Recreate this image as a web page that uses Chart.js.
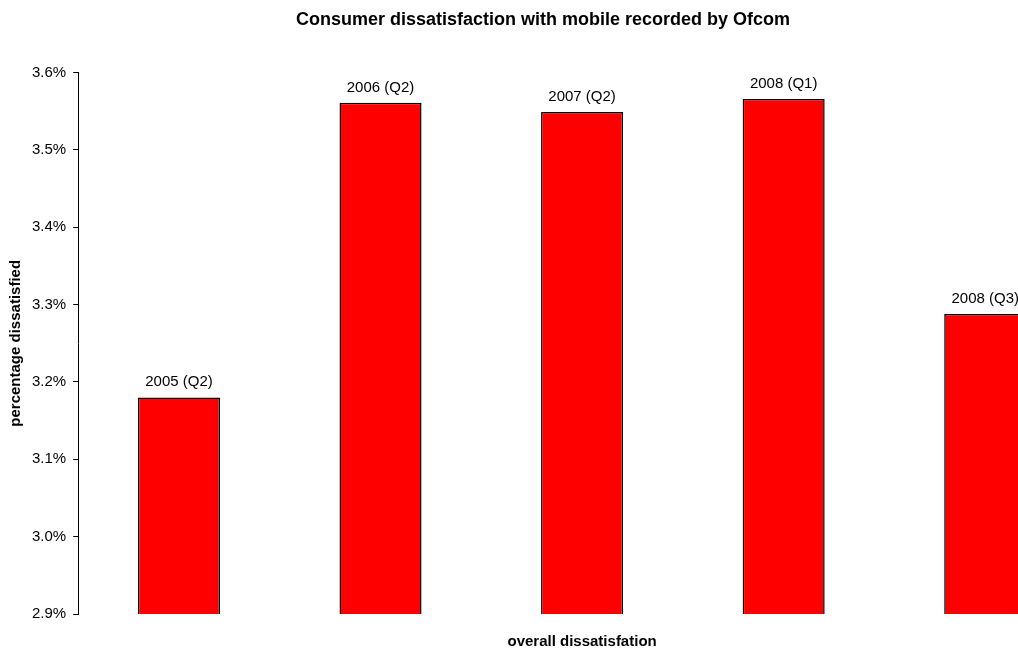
<!DOCTYPE html>
<html>
<head>
<meta charset="utf-8">
<script src="https://cdn.jsdelivr.net/npm/chart.js@4"></script>
<style>
  html, body { margin: 0; padding: 0; overflow: hidden; background: #fff; }
  #wrap { width: 1086px; height: 648px; }
</style>
</head>
<body>
<div id="wrap"><canvas id="myChart" width="1086" height="648"></canvas></div>
<script>
var categories = ['2005 (Q2)', '2006 (Q2)', '2007 (Q2)', '2008 (Q1)', '2008 (Q3)'];
var dissatisfied = [3.180, 3.561, 3.549, 3.566, 3.288];  // percent
var yTicks = [2.9, 3.0, 3.1, 3.2, 3.3, 3.4, 3.5, 3.6];

var FONT = 'Liberation Sans, Arial, sans-serif';

// draws the category name above each bar
var barLabels = {
  id: 'barLabels',
  afterDatasetsDraw: function(chart) {
    var ctx = chart.ctx;
    var meta = chart.getDatasetMeta(0);
    ctx.save();
    ctx.font = '15px ' + FONT;
    ctx.fillStyle = '#000';
    ctx.textAlign = 'center';
    ctx.textBaseline = 'alphabetic';
    meta.data.forEach(function(bar, i) {
      ctx.fillText(categories[i], bar.x, bar.y - 11);
    });
    ctx.restore();
  }
};

var chart = new Chart(document.getElementById('myChart'), {
  type: 'bar',
  data: {
    labels: categories,
    datasets: [{
      data: dissatisfied,
      backgroundColor: '#ff0000',
      borderColor: '#000000',
      borderWidth: 1.5,
      borderSkipped: false,
      barPercentage: 0.407,
      categoryPercentage: 1
    }]
  },
  options: {
    responsive: false,
    animation: false,
    events: [],
    layout: { padding: { left: 0, right: 0, top: 0, bottom: 0 } },
    plugins: {
      legend: { display: false },
      tooltip: { enabled: false },
      title: {
        display: true,
        text: 'Consumer dissatisfaction with mobile recorded by Ofcom',
        color: '#000',
        font: { family: FONT, size: 18, weight: 'bold' },
        padding: { top: 9, bottom: 42 }
      }
    },
    scales: {
      x: {
        grid: { display: false },
        border: { display: false },
        ticks: { display: false },
        title: {
          display: true,
          text: 'overall dissatisfation',
          color: '#000',
          font: { family: FONT, size: 15, weight: 'bold' },
          padding: { top: 11, bottom: -3 }
        }
      },
      y: {
        min: yTicks[0],
        max: yTicks[yTicks.length - 1],
        afterBuildTicks: function(axis) {
          axis.ticks = yTicks.map(function(v) { return { value: v }; });
        },
        grid: {
          drawOnChartArea: false,
          drawTicks: true,
          tickLength: 5,
          color: '#000'
        },
        border: { display: true, color: '#000', width: 1 },
        ticks: {
          padding: 7,
          color: '#000',
          font: { family: FONT, size: 15 },
          callback: function(value) { return Number(value).toFixed(1) + '%'; }
        },
        title: {
          display: true,
          text: 'percentage dissatisfied',
          color: '#000',
          font: { family: FONT, size: 15, weight: 'bold' },
          padding: { top: 7, bottom: 0 }
        }
      }
    }
  },
  plugins: [barLabels]
});
</script>
</body>
</html>
